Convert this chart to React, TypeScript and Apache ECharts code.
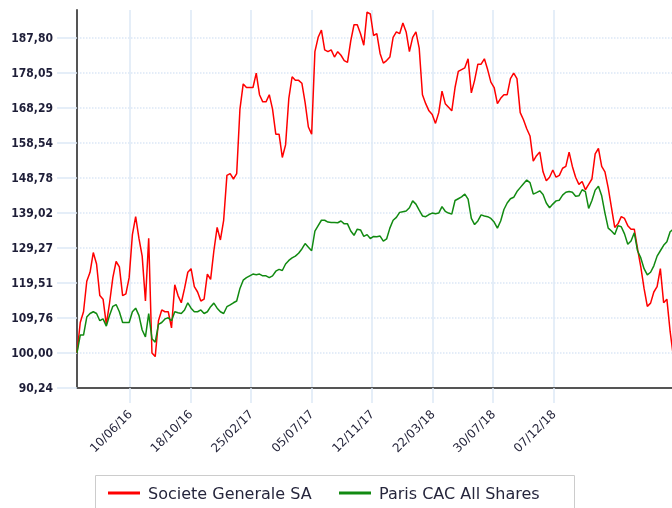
import React, { useEffect, useRef } from "react";
import * as echarts from "echarts";

const dates = [
  "2016-02-17","2016-02-24","2016-03-02","2016-03-09","2016-03-16","2016-03-23","2016-03-30","2016-04-06","2016-04-13","2016-04-20",
  "2016-04-27","2016-05-04","2016-05-11","2016-05-18","2016-05-25","2016-06-01","2016-06-08","2016-06-15","2016-06-22","2016-06-29",
  "2016-07-06","2016-07-13","2016-07-20","2016-07-27","2016-08-03","2016-08-10","2016-08-17","2016-08-24","2016-08-31","2016-09-07",
  "2016-09-14","2016-09-21","2016-09-28","2016-10-05","2016-10-12","2016-10-19","2016-10-26","2016-11-02","2016-11-09","2016-11-16",
  "2016-11-23","2016-11-30","2016-12-07","2016-12-14","2016-12-21","2016-12-28","2017-01-04","2017-01-11","2017-01-18","2017-01-25",
  "2017-02-01","2017-02-08","2017-02-15","2017-02-22","2017-03-01","2017-03-08","2017-03-15","2017-03-22","2017-03-29","2017-04-05",
  "2017-04-12","2017-04-19","2017-04-26","2017-05-03","2017-05-10","2017-05-17","2017-05-24","2017-05-31","2017-06-07","2017-06-14",
  "2017-06-21","2017-06-28","2017-07-05","2017-07-12","2017-07-19","2017-07-26","2017-08-02","2017-08-09","2017-08-16","2017-08-23",
  "2017-08-30","2017-09-06","2017-09-13","2017-09-20","2017-09-27","2017-10-04","2017-10-11","2017-10-18","2017-10-25","2017-11-01",
  "2017-11-08","2017-11-15","2017-11-22","2017-11-29","2017-12-06","2017-12-13","2017-12-20","2017-12-27","2018-01-03","2018-01-10",
  "2018-01-17","2018-01-24","2018-01-31","2018-02-07","2018-02-14","2018-02-21","2018-02-28","2018-03-07","2018-03-14","2018-03-21",
  "2018-03-28","2018-04-04","2018-04-11","2018-04-18","2018-04-25","2018-05-02","2018-05-09","2018-05-16","2018-05-23","2018-05-30",
  "2018-06-06","2018-06-13","2018-06-20","2018-06-27","2018-07-04","2018-07-11","2018-07-18","2018-07-25","2018-08-01","2018-08-08",
  "2018-08-15","2018-08-22","2018-08-29","2018-09-05","2018-09-12","2018-09-19","2018-09-26","2018-10-03","2018-10-10","2018-10-17",
  "2018-10-24","2018-10-31","2018-11-07","2018-11-14","2018-11-21","2018-11-28","2018-12-05","2018-12-12","2018-12-19","2018-12-26",
  "2019-01-02","2019-01-09","2019-01-16","2019-01-23","2019-01-30","2019-02-06","2019-02-13","2019-02-20","2019-02-27","2019-03-06",
  "2019-03-13","2019-03-20","2019-03-27","2019-04-03","2019-04-10","2019-04-17","2019-04-24","2019-05-01","2019-05-08","2019-05-15",
  "2019-05-22","2019-05-29","2019-06-05","2019-06-12","2019-06-19","2019-06-26","2019-07-03","2019-07-10","2019-07-17","2019-07-24",
  "2019-07-31","2019-08-07","2019-08-14","2019-08-21"
];

const societeGenerale = [
  100.0, 108.5, 111.5, 120.0, 122.5, 128.0, 124.8, 116.0, 115.0, 108.0,
  114.0, 121.0, 125.5, 124.0, 116.0, 116.5, 121.0, 133.0, 138.0, 132.0,
  127.0, 114.5, 132.0, 100.0, 99.0, 109.0, 112.0, 111.5, 111.5, 107.0,
  119.0, 116.0, 114.0, 118.0, 122.5, 123.5, 118.5, 117.0, 114.5, 115.0,
  122.0, 120.5, 128.5, 135.0, 131.5, 137.0, 149.5, 150.0, 148.5, 150.0,
  168.0, 175.0, 174.0, 174.0, 174.0, 178.0, 172.0, 170.0, 170.0, 172.0,
  168.0, 161.0, 161.0, 154.5, 158.0, 171.0, 177.0, 176.0, 176.0, 175.2,
  169.8, 163.0, 161.0, 184.0, 188.0, 190.0, 184.5, 184.0, 184.5, 182.5,
  184.0, 183.0, 181.5, 181.0, 187.0, 191.5, 191.5, 189.0, 185.8, 195.0,
  194.5, 188.5, 189.0, 183.5, 180.8, 181.5, 182.5, 188.0, 189.5, 189.0,
  192.0, 189.5, 184.0, 188.0, 189.5, 185.0, 172.0, 169.5, 167.5, 166.5,
  164.0, 167.0, 173.0, 169.5, 168.5, 167.5, 174.0, 178.5, 179.0, 179.5,
  182.0, 172.5, 176.0, 180.5, 180.5, 182.0, 179.0, 175.5, 174.0, 169.5,
  171.0, 172.0, 172.0, 176.5, 178.0, 176.5, 167.0, 165.0, 162.5, 160.5,
  153.5, 155.0, 156.0, 150.5, 148.0, 149.0, 151.0, 149.0, 149.5, 151.5,
  152.0, 156.0, 152.0, 149.0, 147.0, 147.8, 145.5, 147.0, 148.5, 155.5,
  157.0, 152.0, 150.5, 146.0, 140.5, 135.0, 136.0, 138.0, 137.5, 135.5,
  134.5, 134.5, 129.0, 124.0, 118.0, 113.0, 113.9, 117.0, 118.5, 123.5,
  114.0, 115.0, 106.0, 99.0
];

const parisCacAllShares = [
  100.0, 105.0, 105.0, 110.0, 111.0, 111.5, 111.0, 109.0, 109.5, 107.5,
  110.5, 113.0, 113.5, 111.5, 108.5, 108.5, 108.5, 111.5, 112.5, 110.5,
  106.4, 104.5, 111.0, 104.0, 103.0, 108.0, 108.5, 109.5, 109.8, 109.0,
  111.5, 111.2, 111.0, 112.0, 114.0, 112.5, 111.5, 111.5, 112.0, 111.0,
  111.5, 112.9, 113.9, 112.5, 111.5, 111.0, 112.9, 113.4, 114.0, 114.5,
  118.0, 120.3, 121.0, 121.5, 122.0, 121.8, 122.0, 121.5, 121.5, 121.0,
  121.5, 122.8, 123.3, 123.0, 124.8, 125.8, 126.5, 127.0, 127.8, 129.0,
  130.5, 129.5, 128.5, 134.0, 135.5, 137.0, 137.0, 136.5, 136.4, 136.4,
  136.3, 136.8, 136.0, 136.0, 134.0, 132.8, 134.5, 134.3, 132.5, 133.0,
  131.9, 132.5, 132.4, 132.6, 131.2, 131.8, 134.8, 137.0, 137.8, 139.2,
  139.4, 139.6, 140.5, 142.4, 141.5, 139.8, 138.2, 138.0, 138.6, 139.0,
  138.8, 139.0, 140.8, 139.5, 139.0, 138.7, 142.5, 143.0, 143.5, 144.3,
  142.9, 137.5, 135.8, 136.8, 138.5, 138.2, 138.0, 137.5, 136.5, 134.8,
  136.8, 140.0, 141.8, 143.0, 143.4, 145.0, 146.1, 147.2, 148.2, 147.5,
  144.3, 144.7, 145.2, 144.2, 141.8, 140.5, 141.5, 142.4, 142.6, 144.0,
  144.8, 145.0, 144.8, 143.7, 143.8, 145.5, 145.0, 140.3, 142.5, 145.4,
  146.5, 143.8, 139.0, 134.8, 134.0, 133.0, 135.5, 135.2, 133.2, 130.3,
  131.2, 133.5, 128.5, 126.5, 123.5, 121.8, 122.5, 124.3, 127.0, 128.5,
  130.0, 131.0, 133.8, 134.5
];

const xTickDates = ["2016-06-10", "2016-10-18", "2017-02-25", "2017-07-05", "2017-11-12", "2018-03-22", "2018-07-30", "2018-12-07"];
const yTickValues = [90.24, 100.0, 109.76, 119.51, 129.27, 139.02, 148.78, 158.54, 168.29, 178.05, 187.8];
const seriesNames = ["Societe Generale SA", "Paris CAC All Shares"];
const axisStart = "2016-02-17";
const axisEnd = "2019-08-18";

const ts = (s: string) => {
  const [y, m, d] = s.split("-").map(Number);
  return new Date(y, m - 1, d).getTime();
};
const pad = (n: number) => String(n).padStart(2, "0");
const fmtDate = (v: number) => {
  const d = new Date(v);
  return `${pad(d.getDate())}/${pad(d.getMonth() + 1)}/${pad(d.getFullYear() % 100)}`;
};

const FONT = "DejaVu Sans";
const TEXT = "#26263c";
const GRID_BLUE = "#dce8f6";

export default function App() {
  const ref = useRef<HTMLDivElement>(null);
  useEffect(() => {
    const chart = echarts.init(ref.current!, null, { renderer: "svg" });
    const splitColors = yTickValues.map(() => GRID_BLUE).concat(["rgba(0,0,0,0)"]);
    const xTicks = xTickDates.map(ts);
    chart.setOption({
      animation: false,
      grid: { left: 77, right: 0, top: 10, bottom: 120 },
      xAxis: {
        type: "value",
        min: ts(axisStart),
        max: ts(axisEnd),
        axisLine: { show: true, onZero: false, lineStyle: { color: "#555", width: 2 } },
        axisTick: { show: true, length: 15, lineStyle: { color: GRID_BLUE, width: 1.5 }, customValues: xTicks },
        axisLabel: {
          customValues: xTicks,
          rotate: 45,
          margin: 24,
          fontSize: 12,
          fontFamily: FONT,
          color: TEXT,
          hideOverlap: false,
          formatter: (v: number) => fmtDate(v),
        },
        splitLine: { show: true, lineStyle: { color: GRID_BLUE, width: 1.5, type: "solid" } },
      },
      yAxis: {
        type: "value",
        min: 90.24,
        max: 195.61,
        interval: 9.7561,
        axisLine: { show: true, lineStyle: { color: "#555", width: 2 } },
        axisTick: { show: true, length: 20, lineStyle: { color: GRID_BLUE, width: 1.5 }, customValues: yTickValues },
        axisLabel: {
          customValues: yTickValues,
          margin: 24,
          fontSize: 12,
          fontWeight: "bold",
          fontFamily: "'DejaVu Sans Condensed', 'DejaVu Sans', sans-serif",
          color: "#1e1e38",
          showMinLabel: true,
          showMaxLabel: true,
          formatter: (v: number) => v.toFixed(2).replace(".", ","),
        },
        splitLine: { show: true, lineStyle: { color: splitColors, width: 1.5, type: "dotted" } },
      },
      legend: [
        {
          left: 108, top: 485, padding: 0, itemWidth: 32, itemHeight: 3, icon: "rect",
          data: [seriesNames[0]],
          textStyle: { fontSize: 16, fontFamily: FONT, color: TEXT, padding: [0, 0, 0, 3] },
        },
        {
          left: 339, top: 485, padding: 0, itemWidth: 32, itemHeight: 3, icon: "rect",
          data: [seriesNames[1]],
          textStyle: { fontSize: 16, fontFamily: FONT, color: TEXT, padding: [0, 0, 0, 3] },
        },
      ],
      graphic: [
        {
          type: "rect",
          shape: { x: 95.5, y: 475.5, width: 479, height: 50 },
          style: { fill: "none", stroke: "#cccccc", lineWidth: 1 },
          silent: true,
        },
      ],
      series: [
        {
          name: seriesNames[0],
          type: "line",
          showSymbol: false,
          symbol: "none",
          color: "#ff0000",
          lineStyle: { color: "#ff0000", width: 1.5 },
          data: dates.map((d, i) => [ts(d), societeGenerale[i]]),
        },
        {
          name: seriesNames[1],
          type: "line",
          showSymbol: false,
          symbol: "none",
          color: "#118a11",
          lineStyle: { color: "#118a11", width: 1.5 },
          data: dates.map((d, i) => [ts(d), parisCacAllShares[i]]),
        },
      ],
    });
    return () => chart.dispose();
  }, []);
  return <div ref={ref} style={{ position: "fixed", left: 0, top: 0, width: 672, height: 508 }} />;
}
